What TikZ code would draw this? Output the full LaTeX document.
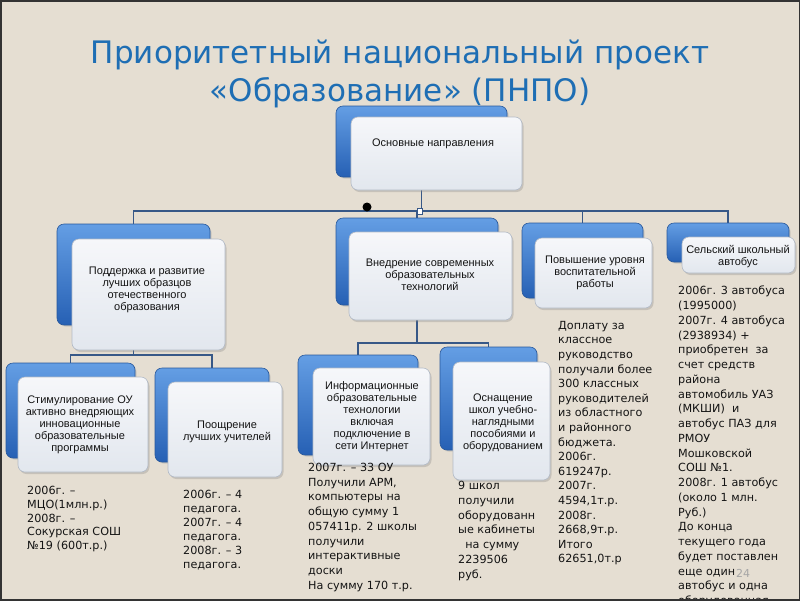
\documentclass[tikz,border=0pt]{standalone}
\usepackage{fontspec}
\setmainfont{DejaVu Sans}
\newfontfamily\boxfont{Liberation Sans}
\usetikzlibrary{shadows}
\definecolor{bgc}{RGB}{229,222,210}
\definecolor{titlec}{RGB}{30,110,180}
\definecolor{bluetop}{RGB}{100,158,228}
\definecolor{bluebot}{RGB}{38,96,180}
\definecolor{blueedge}{RGB}{40,88,155}
\definecolor{fronttop}{RGB}{246,247,250}
\definecolor{frontbot}{RGB}{226,231,238}
\definecolor{frontedge}{RGB}{178,186,198}
\definecolor{connc}{RGB}{55,88,135}
\definecolor{textc}{RGB}{20,20,20}
\pgfdeclarelayer{back}
\pgfdeclarelayer{bg}
\pgfsetlayers{back,bg,main}
\tikzset{
  bluebox/.style={rounded corners=7pt, draw=blueedge, line width=0.6pt,
    top color=bluetop, bottom color=bluebot, inner sep=0pt,
    drop shadow={shadow xshift=1.5pt, shadow yshift=-1.5pt, opacity=0.25}},
  frontbox/.style={rounded corners=7pt, draw=frontedge, line width=0.6pt,
    top color=fronttop, bottom color=frontbot, inner sep=0pt,
    drop shadow={shadow xshift=1.5pt, shadow yshift=-2pt, opacity=0.3}},
  boxtext/.style={font=\boxfont\fontsize{11}{12}\selectfont, text=textc, align=center, inner sep=0pt},
  blocktext/.style={font=\fontsize{11.2}{14.6}\selectfont, text=textc, align=left, anchor=north west, inner sep=0pt},
  conn/.style={draw=connc, line width=1.4pt},
}
\begin{document}
\begin{tikzpicture}[x=1pt,y=-1pt]
\useasboundingbox (0,0) rectangle (800,600);
\begin{pgfonlayer}{back}
\fill[bgc] (0,0) rectangle (800,600);
\end{pgfonlayer}
\begin{scope}
\clip (0,0) rectangle (800,600);
% title
\node[font=\fontsize{31}{38}\selectfont, text=titlec, align=center, inner sep=0pt] (title) at (400,74)
  {Приоритетный национальный проект\\«Образование» (ПНПО)};

% blue back boxes
\node[bluebox, minimum width=171pt, minimum height=71pt] (b0) at (421.5,141.5) {};
\node[bluebox, minimum width=153pt, minimum height=101pt] (b1) at (133.5,274.5) {};
\node[bluebox, minimum width=162pt, minimum height=87pt] (b2) at (417,261.5) {};
\node[bluebox, minimum width=121pt, minimum height=75pt] (b3) at (582.5,260.5) {};
\node[bluebox, minimum width=122pt, minimum height=39pt] (b4) at (728,242.5) {};
\node[bluebox, minimum width=129pt, minimum height=95pt] (b5) at (70.5,410.5) {};
\node[bluebox, minimum width=114pt, minimum height=94pt] (b6) at (212,415) {};
\node[bluebox, minimum width=120pt, minimum height=100pt] (b7) at (358,405) {};
\node[bluebox, minimum width=97pt, minimum height=103pt] (b8) at (488.5,398.5) {};

% front boxes
\node[frontbox, minimum width=171pt, minimum height=73pt] (f0) at (436.5,153.5) {};
\node[frontbox, minimum width=153pt, minimum height=111pt] (f1) at (148.5,294.5) {};
\node[frontbox, minimum width=163pt, minimum height=88pt] (f2) at (430.5,276) {};
\node[frontbox, minimum width=117pt, minimum height=70pt] (f3) at (593.5,273) {};
\node[frontbox, minimum width=113pt, minimum height=36pt] (f4) at (738.5,255) {};
\node[frontbox, minimum width=130pt, minimum height=95pt] (f5) at (83,424.5) {};
\node[frontbox, minimum width=114pt, minimum height=95pt] (f6) at (225,429.5) {};
\node[frontbox, minimum width=117pt, minimum height=97pt] (f7) at (371.5,416.5) {};
\node[frontbox, minimum width=97pt, minimum height=118pt] (f8) at (501.5,421) {};

% box texts
\node[boxtext] (t0) at (433,144) {Основные направления};
\node[boxtext] (t1) at (147,290) {Поддержка и развитие\\лучших образцов\\отечественного\\образования};
\node[boxtext] (t2) at (430,275) {Внедрение современных\\образовательных\\технологий};
\node[boxtext] (t3) at (595,273) {Повышение уровня\\воспитательной\\работы};
\node[boxtext] (t4) at (738,257) {Сельский школьный\\автобус};
\node[boxtext] (t5) at (80,425) {Стимулирование ОУ\\активно внедряющих\\инновационные\\образовательные\\программы};
\node[boxtext] (t6) at (227,432) {Поощрение\\лучших учителей};
\node[boxtext] (t7) at (372,417) {Информационные\\образовательные\\технологии\\включая\\подключение в\\сети Интернет};
\node[boxtext] (t8) at (503,423) {Оснащение\\школ учебно-\\наглядными\\пособиями и\\оборудованием};

% connectors
\coordinate (bus) at (0,211);
\coordinate (busA) at (0,355);
\coordinate (busB) at (0,343);
\begin{pgfonlayer}{bg}
\draw[conn] (b0.south) -- (b0.south |- bus);
\draw[conn] (b1.north) -- (b1.north |- bus) -- (b4.north |- bus) -- (b4.north);
\draw[conn] (b2.north) -- (b2.north |- bus);
\draw[conn] (b3.north) -- (b3.north |- bus);
\draw[conn] (b1.south) -- (b1.south |- busA);
\draw[conn] (b5.north) -- (b5.north |- busA) -- (b6.north |- busA) -- (b6.north);
\draw[conn] (b2.south) -- (b2.south |- busB);
\draw[conn] (b7.north) -- (b7.north |- busB) -- (b8.north |- busB) -- (b8.north);
\end{pgfonlayer}
\node[draw=connc, fill=white, line width=0.8pt, minimum width=5pt, minimum height=6pt, inner sep=0pt] (handle) at (420,211) {};
\node[circle, fill=black, minimum size=9pt, inner sep=0pt] (dot) at (367,207) {};

% text blocks
\node[blocktext, font=\fontsize{11.2}{13.8}\selectfont] (n1) at (27,486) {2006г. –\\МЦО(1млн.р.)\\2008г. –\\Сокурская СОШ\\№19 (600т.р.)};
\node[blocktext, font=\fontsize{11.2}{14}\selectfont] (n2) at (183,490) {2006г. – 4\\педагога.\\2007г. – 4\\педагога.\\2008г. – 3\\педагога.};
\node[blocktext, font=\fontsize{11.2}{14.7}\selectfont] (n3) at (308,463) {2007г. – 33 ОУ\\Получили АРМ,\\компьютеры на\\общую сумму 1\\057411р. 2 школы\\получили\\интерактивные\\доски\\На сумму 170 т.р.};
\node[blocktext, font=\fontsize{11.2}{14.8}\selectfont] (n4) at (458,481) {9 школ\\получили\\оборудованн\\ые кабинеты\\\ \ на сумму\\2239506\\руб.};
\node[blocktext] (n5) at (558,321) {Доплату за\\классное\\руководство\\получали более\\300 классных\\руководителей\\из областного\\и районного\\бюджета.\\2006г.\\619247р.\\2007г.\\4594,1т.р.\\2008г.\\2668,9т.р.\\Итого\\62651,0т.р};
\node[blocktext, font=\fontsize{11.2}{14.75}\selectfont] (n6) at (678,286) {2006г. 3 автобуса\\(1995000)\\2007г. 4 автобуса\\(2938934) +\\приобретен \ за\\счет средств\\района\\автомобиль УАЗ\\(МКШИ) \ и\\автобус ПАЗ для\\РМОУ\\Мошковской\\СОШ №1.\\2008г. 1 автобус\\(около 1 млн.\\Руб.)\\До конца\\текущего года\\будет поставлен\\еще один\\автобус и одна\\оборудованная};
\node[font=\fontsize{11}{13}\selectfont, text=black!35, inner sep=0pt] (pagenum) at (743,573) {24};
\end{scope}
\draw[black!80, line width=3pt] (0,0) rectangle (800,600);
\end{tikzpicture}
\end{document}
